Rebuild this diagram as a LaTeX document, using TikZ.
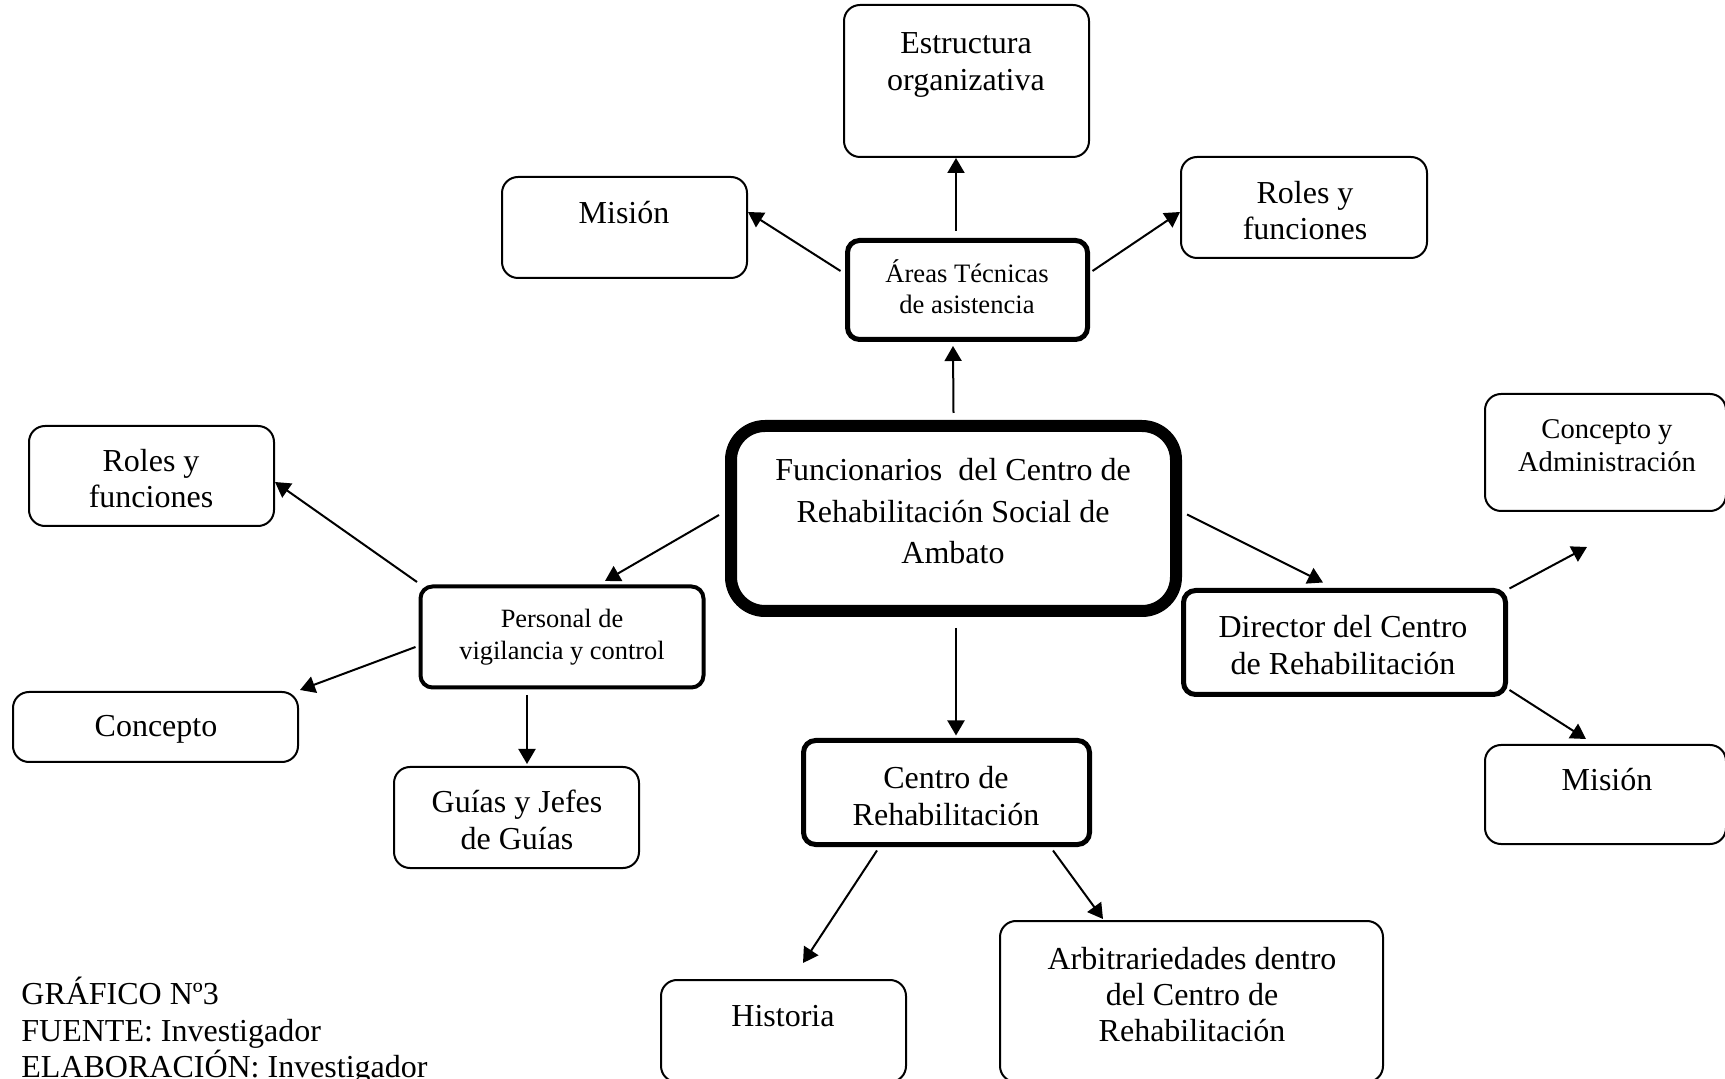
\documentclass[tikz,border=0pt]{standalone}
\usepackage{fontspec}
\setmainfont{Liberation Serif}
\usetikzlibrary{calc,arrows.meta}
\tikzset{
 box/.style={draw, line width=1pt, rounded corners=8pt, inner sep=0pt},
 tbox/.style={draw, line width=2.5pt, rounded corners=6pt, inner sep=0pt},
 lbl/.style={align=center, inner sep=0pt, font=\fontsize{16}{18.2}\selectfont},
 slbl/.style={align=center, inner sep=0pt, font=\fontsize{13.3}{15.7}\selectfont},
 arr/.style={line width=1pt, -{Triangle[length=7.5pt,width=8.5pt]}},
}
\begin{document}
\begin{tikzpicture}[x=0.5pt,y=-0.5pt]
\useasboundingbox (0,0) rectangle (1725,1079);
% boxes
\node[box, minimum width=122.5pt, minimum height=76pt] (est) at (966.5,81) {};
\node[box, minimum width=122.5pt, minimum height=50.5pt] (mis1) at (624.5,227.5) {};
\node[tbox, minimum width=120pt, minimum height=49.5pt] (are) at (967.5,290) {};
\node[box, minimum width=123pt, minimum height=50.5pt] (rol1) at (1304,207.5) {};
\node[draw, line width=6pt, rounded corners=17pt, inner sep=0pt, minimum width=222.5pt, minimum height=92.5pt] (cen) at (953.5,518.5) {};
\node[box, minimum width=122.5pt, minimum height=50pt] (rol2) at (151.5,476) {};
\node[tbox, line width=2pt, minimum width=141.5pt, minimum height=50.5pt] (per) at (562,637) {};
\node[box, minimum width=142.5pt, minimum height=35pt] (con) at (155.5,727) {};
\node[box, minimum width=122.5pt, minimum height=50.5pt] (gui) at (516.5,817.5) {};
\node[tbox, minimum width=143pt, minimum height=52pt] (cre) at (946.5,792.5) {};
\node[tbox, minimum width=161pt, minimum height=52pt] (dir) at (1344.5,642.5) {};
\node[box, minimum width=120.5pt, minimum height=58.5pt] (cad) at (1605.5,452.5) {};
\node[box, minimum width=120.5pt, minimum height=49.5pt] (mis2) at (1605.5,794.5) {};
\node[box, minimum width=122.5pt, minimum height=51pt] (his) at (783.5,1031) {};
\node[box, minimum width=191.5pt, minimum height=80.5pt] (arb) at (1191.5,1001.5) {};
\coordinate (free) at (1587,547);
% texts
\node[lbl] (t-est) at (966,65) {Estructura\\organizativa};
\node[lbl] (t-mis1) at (624,213) {Misión};
\node[slbl] (t-are) at (967,286.5) {Áreas Técnicas\\de asistencia};
\node[lbl] (t-rol1) at (1305,210.5) {Roles y\\funciones};
\node[align=center, inner sep=0pt, font=\fontsize{16}{20.75}\selectfont] (t-cen) at (953,511.5) {Funcionarios~ del Centro de\\Rehabilitación Social de\\Ambato};
\node[lbl] (t-rol2) at (151,478.5) {Roles y\\funciones};
\node[align=center, inner sep=0pt, font=\fontsize{13.2}{16}\selectfont] (t-per) at (562,637.5) {Personal de\\vigilancia y control};
\node[lbl] (t-con) at (156,729) {Concepto};
\node[lbl] (t-gui) at (517,820) {Guías y Jefes\\de Guías};
\node[lbl] (t-cre) at (946,796) {Centro de\\Rehabilitación};
\node[lbl] (t-dir) at (1343,645) {Director del Centro\\de Rehabilitación};
\node[align=center, inner sep=0pt, font=\fontsize{14.3}{16.5}\selectfont] (t-cad) at (1607,445.5) {Concepto y\\Administración};
\node[lbl] (t-mis2) at (1607,780) {Misión};
\node[lbl] (t-his) at (783,1016) {Historia};
\node[lbl] (t-arb) at (1192,994.5) {Arbitrariedades dentro\\del Centro de\\Rehabilitación};
\node[lbl, align=left, anchor=west] (cap) at (21,1031) {GRÁFICO Nº3\\FUENTE: Investigador\\ELABORACIÓN: Investigador};
% connectors
\draw[arr] ($(are.north)+(-11.5,-7)$) -- ($(est.south)+(-10.5,0)$);
\draw[arr] ($(are.west)+(-4.5,-19)$) -- ($(mis1.east)+(0,-15.5)$);
\draw[arr] ($(are.east)+(2.5,-19)$) -- ($(rol1.west)+(0,4.5)$);
\draw[arr] ($(cen.north)+(0,-7)$) -- ($(are.south)+(-14.5,4)$);
\draw[arr] ($(cen.west)+(-6,-3.5)$) -- ($(per.north)+(43,-3.5)$);
\draw[arr] ($(per.north west)+(-1.5,-2.5)$) -- ($(rol2.east)+(0,6)$);
\draw[arr] ($(per.west)+(-3,10)$) -- ($(con.north east)+(1,-1)$);
\draw[arr] ($(per.south)+(-35,5.5)$) -- ($(gui.north)+(10.5,-2)$);
\draw[arr] ($(cen.south)+(2.5,11)$) -- ($(cre.north)+(9.5,-2.5)$);
\draw[arr] ($(cen.east)+(5,-4)$) -- ($(dir.north)+(-21.5,-5.5)$);
\draw[arr] ($(dir.north east)+(1.5,0.5)$) -- (free);
\draw[arr] ($(dir.south east)+(1.5,-7)$) -- ($(mis2.north west)+(102,-5)$);
\draw[arr] ($(cre.south)+(-69.5,3.5)$) -- ($(his.north)+(19.5,-16)$);
\draw[arr] ($(cre.south)+(106.5,3.5)$) -- ($(arb.north)+(-88.5,-1)$);
\end{tikzpicture}
\end{document}
